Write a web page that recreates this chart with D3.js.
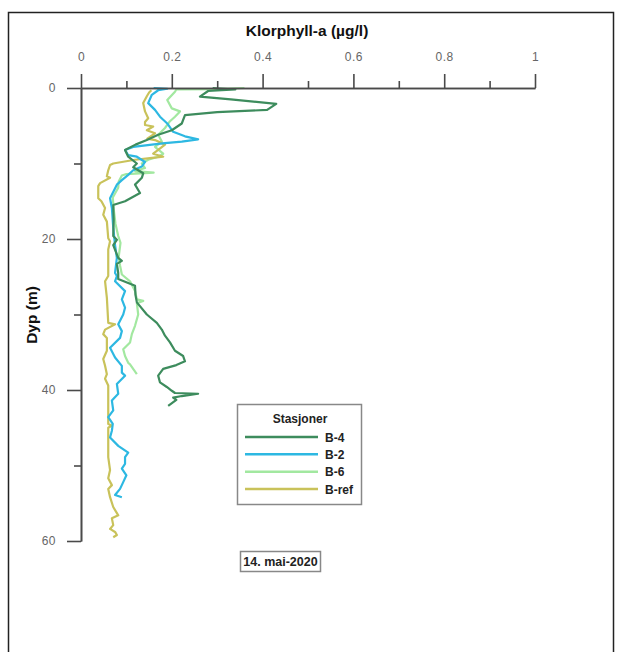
<!DOCTYPE html>
<html>
<head>
<meta charset="utf-8">
<title>Klorofyll profil</title>
<script src="https://d3js.org/d3.v7.min.js"></script>
<style>
  body { margin: 0; background: #fff; }
  text { font-family: "Liberation Sans", Arial, sans-serif; }
</style>
</head>
<body>
<div id="chart"></div>
<script>
// [dybde (m), klorofyll-a (ug/l)] lest av figuren
const b4 = [[0,0.29],[0.2,0.34],[0.4,0.28],[1.15,0.262],[1.5,0.33],[2.1,0.43],[2.9,0.41],[3.2,0.30],[3.6,0.229],[4.7,0.222],[5.6,0.2],[6.2,0.17],[6.9,0.145],[7.5,0.12],[8.2,0.097],[9.1,0.104],[10.0,0.123],[10.5,0.115],[11.3,0.137],[11.9,0.134],[12.8,0.119],[13.9,0.13],[15.0,0.097],[15.5,0.071],[17.5,0.072],[19.6,0.071],[20.1,0.079],[20.8,0.071],[22.5,0.082],[22.9,0.09],[23.3,0.079],[24.5,0.082],[25.3,0.082],[26.2,0.119],[27.4,0.12],[28.4,0.123],[30,0.145],[31.1,0.167],[32,0.178],[32.8,0.185],[33.7,0.196],[34.8,0.207],[35.5,0.225],[36.2,0.229],[36.7,0.21],[37.2,0.181],[38.1,0.17],[39.0,0.174],[39.6,0.189],[40.1,0.2],[40.4,0.207],[40.5,0.258],[40.8,0.222],[41.0,0.203],[41.3,0.21],[42.1,0.192]];
const b2 = [[0,0.16],[0.1,0.19],[0.3,0.17],[0.9,0.156],[2.0,0.148],[2.9,0.163],[3.8,0.174],[4.7,0.19],[5.8,0.203],[6.4,0.229],[6.8,0.258],[7.1,0.222],[7.3,0.185],[7.5,0.156],[7.8,0.115],[8.2,0.097],[8.9,0.104],[9.1,0.123],[9.8,0.141],[10.4,0.134],[10.9,0.115],[11.5,0.104],[12.2,0.09],[12.8,0.079],[14.6,0.064],[15.9,0.068],[18.5,0.071],[20.8,0.075],[22.5,0.079],[24.5,0.075],[24.9,0.079],[25.6,0.075],[26.9,0.097],[28,0.09],[29.1,0.097],[30,0.093],[31.3,0.082],[32.2,0.09],[33.1,0.086],[34.4,0.064],[35.7,0.075],[36.8,0.09],[37.7,0.09],[38.1,0.097],[39.2,0.079],[40.5,0.082],[41.4,0.068],[42.7,0.071],[43.6,0.06],[44.5,0.07],[45.4,0.068],[46.3,0.064],[47.4,0.082],[48.3,0.104],[48.9,0.097],[49.8,0.097],[50.4,0.09],[51.3,0.1],[52.2,0.093],[53.1,0.086],[53.9,0.075],[54.2,0.09]];
const b6 = [[0,0.36],[0.15,0.30],[0.2,0.21],[0.5,0.207],[1.6,0.19],[2.7,0.2],[3.1,0.218],[3.8,0.207],[4.4,0.196],[5.3,0.185],[6.2,0.17],[7.1,0.178],[7.8,0.163],[8.7,0.181],[9.1,0.17],[9.5,0.148],[10.0,0.134],[10.6,0.141],[11.0,0.119],[11.2,0.16],[11.4,0.1],[11.6,0.09],[12.4,0.083],[13.2,0.082],[14.5,0.07],[16,0.072],[18,0.076],[19.6,0.082],[20.5,0.087],[22.4,0.083],[23.5,0.086],[24.7,0.09],[25.6,0.108],[26.9,0.119],[28,0.123],[28.2,0.137],[28.5,0.123],[30,0.126],[31.5,0.119],[32.6,0.112],[33.7,0.108],[34.6,0.093],[35.5,0.097],[36.4,0.104],[36.6,0.108],[37.9,0.123]];
const bref = [[0.3,0.155],[0.6,0.15],[1.1,0.145],[2.0,0.137],[3.1,0.141],[4.0,0.148],[4.5,0.141],[4.9,0.141],[5.1,0.159],[5.6,0.145],[6.0,0.163],[6.7,0.146],[6.9,0.163],[7.5,0.185],[8.2,0.17],[8.7,0.159],[9.1,0.181],[9.3,0.152],[9.5,0.119],[9.8,0.09],[10.0,0.071],[10.2,0.064],[10.9,0.06],[11.7,0.057],[11.9,0.064],[12.6,0.042],[13.0,0.038],[14.6,0.038],[15.0,0.045],[15.9,0.053],[16.8,0.049],[17.7,0.057],[19.9,0.06],[20.3,0.064],[21.4,0.06],[24.5,0.06],[24.9,0.06],[25.6,0.053],[27.8,0.057],[31.1,0.06],[31.3,0.075],[32.0,0.053],[32.6,0.049],[33.1,0.057],[34.8,0.057],[35.9,0.049],[36.8,0.053],[37.9,0.057],[38.5,0.053],[39.4,0.06],[44.5,0.06],[44.7,0.068],[45.0,0.06],[48.9,0.06],[50.6,0.064],[51.7,0.06],[52.6,0.068],[53.1,0.06],[54.2,0.064],[55.5,0.071],[56.6,0.082],[57.0,0.068],[57.9,0.071],[58.4,0.064],[58.8,0.075],[59.2,0.079],[59.5,0.071]];

const stations = ["B-4", "B-2", "B-6", "B-ref"];
const colors = ["#3d8c5d", "#2db8e2", "#a2e8a0", "#c9c25a"];
const profiles = [b4, b2, b6, bref];

const xMajor = [0, 0.2, 0.4, 0.6, 0.8, 1];
const xMinor = [0.1, 0.3, 0.5, 0.7, 0.9];
const yMajor = [0, 20, 40, 60];
const yMinor = [10, 30, 50];

let W = 620, H = 652;
let svg = d3.select("#chart").append("svg")
    .attr("width", W).attr("height", H);

svg.append("rect")
    .attr("x", 8.5).attr("y", 12.5)
    .attr("width", 605).attr("height", 660)
    .attr("fill", "#fff").attr("stroke", "#222").attr("stroke-width", 1.5);

let x = d3.scaleLinear().domain([0, 1]).range([81, 535]);
let y = d3.scaleLinear().domain([0, 60]).range([88, 541]);

// lines first, axes drawn on top
let line = d3.line()
    .x(function(d) { return x(d[1]); })
    .y(function(d) { return y(d[0]); });

let order = [2, 3, 1, 0];
order.forEach(function(i) {
    svg.append("path")
        .datum(profiles[i])
        .attr("d", line)
        .attr("fill", "none")
        .attr("stroke", colors[i])
        .attr("stroke-width", 2.2)
        .attr("stroke-linejoin", "round");
});

function styleAxis(g) {
    g.selectAll("line").attr("stroke", "#4a4a4a").attr("stroke-width", 1.6);
    g.selectAll("path").attr("stroke", "#4a4a4a").attr("stroke-width", 1.6);
    g.selectAll("text").attr("fill", "#666").style("font-size", "12px").style("letter-spacing", "0.5px");
}

svg.append("g").attr("transform", "translate(0,88)")
    .call(d3.axisTop(x).tickValues(xMinor).tickSize(7).tickSizeOuter(0).tickFormat(""))
    .call(styleAxis);
svg.append("g").attr("transform", "translate(0,88)")
    .call(d3.axisTop(x).tickValues(xMajor).tickSize(14).tickSizeOuter(0).tickPadding(13)
        .tickFormat(function(d) { return d === 0 || d === 1 ? d : d3.format(".1f")(d); }))
    .call(styleAxis);

svg.append("g").attr("transform", "translate(81,0)")
    .call(d3.axisLeft(y).tickValues(yMinor).tickSize(7).tickSizeOuter(0).tickFormat(""))
    .call(styleAxis);
svg.append("g").attr("transform", "translate(81,0)")
    .call(d3.axisLeft(y).tickValues(yMajor).tickSize(14).tickSizeOuter(0).tickPadding(11))
    .call(styleAxis);

svg.append("text")
    .attr("x", 307).attr("y", 36)
    .attr("text-anchor", "middle")
    .attr("font-weight", "bold").attr("font-size", "15.5px")
    .attr("fill", "#111")
    .text("Klorphyll-a (µg/l)");

svg.append("text")
    .attr("transform", "translate(37,315) rotate(-90)")
    .attr("text-anchor", "middle")
    .attr("font-weight", "bold").attr("font-size", "15.5px")
    .attr("fill", "#111")
    .text("Dyp (m)");

// legend
let leg = svg.append("g");
leg.append("rect")
    .attr("x", 237.5).attr("y", 404.5).attr("width", 124).attr("height", 100)
    .attr("fill", "#fff").attr("stroke", "#888").attr("stroke-width", 1.5);
leg.append("text")
    .attr("x", 300).attr("y", 423)
    .attr("text-anchor", "middle")
    .attr("font-weight", "bold").attr("font-size", "12px").attr("fill", "#222")
    .text("Stasjoner");
let legY = d3.scalePoint().domain(stations).range([437, 489]);
stations.forEach(function(s, i) {
    leg.append("line")
        .attr("x1", 245).attr("x2", 318)
        .attr("y1", legY(s)).attr("y2", legY(s))
        .attr("stroke", colors[i]).attr("stroke-width", 2.5);
    leg.append("text")
        .attr("x", 325).attr("y", legY(s) + 4.5)
        .attr("font-weight", "bold").attr("font-size", "12px").attr("fill", "#222")
        .text(s);
});

// dato
svg.append("rect")
    .attr("x", 240.5).attr("y", 551.5).attr("width", 80).attr("height", 20)
    .attr("fill", "#fff").attr("stroke", "#888").attr("stroke-width", 1.5);
svg.append("text")
    .attr("x", 280.5).attr("y", 566)
    .attr("text-anchor", "middle")
    .attr("font-weight", "bold").attr("font-size", "12.5px").attr("fill", "#222")
    .text("14. mai-2020");
</script>
</body>
</html>
